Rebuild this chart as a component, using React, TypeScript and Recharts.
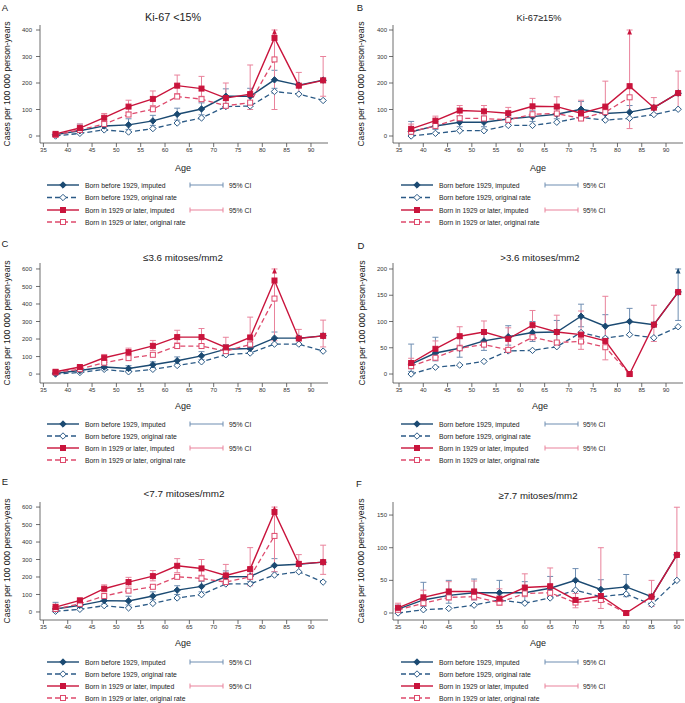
import React from 'react';
import { LineChart, Line, XAxis, YAxis, ErrorBar } from 'recharts';

const FONT = '"Liberation Sans", Arial, Helvetica, sans-serif';
const BLUE = '#1b4a72';
const BLUE_D = '#2b5a86';
const RED = '#c9143c';
const RED_D = '#de4a6c';
const BLUE_CI = '#6f8eb2';
const RED_CI = '#e9829b';
const AXIS = '#4a4a4a';
const TXT = '#222';
const _ = null;

// ---------- categories / ticks / labels ----------
const agesMid = [37.5, 42.5, 47.5, 52.5, 57.5, 62.5, 67.5, 72.5, 77.5, 82.5, 87.5, 92.5];
const agesF = [35, 40, 45, 50, 55, 60, 65, 70, 75, 80, 85, 90];
const xTicks = [35, 40, 45, 50, 55, 60, 65, 70, 75, 80, 85, 90];
const yTicks400 = [0, 100, 200, 300, 400];
const yTicks600 = [0, 100, 200, 300, 400, 500, 600];
const yTicks200 = [0, 50, 100, 150, 200];
const yTicks150 = [0, 50, 100, 150];

const legendLabels = [
  'Born before 1929, imputed',
  'Born before 1929, original rate',
  'Born in 1929 or later, imputed',
  'Born in 1929 or later, original rate',
];
const ciLabel = '95% CI';
const yLabel = 'Cases per 100 000 person-years';
const xLabel = 'Age';
const titles = ['Ki-67 <15%', 'Ki-67≥15%', '≤3.6 mitoses/mm2', '>3.6 mitoses/mm2', '<7.7 mitoses/mm2', '≥7.7 mitoses/mm2'];
const letters = ['A', 'B', 'C', 'D', 'E', 'F'];

// ---------- Panel A: Ki-67 <15% ----------
const aBImp = [5, 20, 38, 42, 57, 82, 102, 150, 150, 212, 192, 211];
const aBOrig = [0, 10, 23, 15, 28, 49, 68, 111, 113, 168, 158, 134];
const aRImp = [8, 30, 69, 111, 140, 190, 179, 143, 158, 370, 190, 210];
const aROrig = [4, 23, 45, 81, 101, 149, 139, 114, 126, 289, _, _];
const aBLo = [0, 10, 25, 25, 40, 60, 80, 120, 120, 180, _, _];
const aBHi = [10, 45, 55, 65, 78, 105, 125, 178, 180, 248, _, _];
const aRLo = [3, 20, 55, 90, 115, 160, 150, 110, 100, 100, 160, 150];
const aRHi = [15, 45, 85, 135, 170, 230, 225, 200, 268, 400, 240, 300];
const aBArrow = [_, _, _, _, _, _, _, _, _, _, _, _];
const aRArrow = [_, _, _, _, _, _, _, _, _, 400, _, _];

// ---------- Panel B: Ki-67 >=15% ----------
const bBImp = [16, 38, 52, 52, 64, 73, 82, 101, 85, 90, 107, 162];
const bBOrig = [0, 10, 20, 20, 40, 40, 52, 70, 60, 67, 81, 101];
const bRImp = [27, 58, 96, 93, 86, 112, 111, 86, 111, 188, 107, 162];
const bROrig = [16, 38, 67, 66, 61, 82, 85, 66, 90, 146, _, _];
const bBLo = [5, 25, 35, 35, 50, 55, 65, 80, 65, 65, _, _];
const bBHi = [55, 55, 75, 75, 80, 95, 105, 130, 110, 115, _, _];
const bRLo = [15, 40, 75, 72, 68, 85, 85, 65, 60, 28, 85, 100];
const bRHi = [45, 75, 115, 115, 108, 142, 148, 135, 207, 400, 145, 245];
const bBArrow = [_, _, _, _, _, _, _, _, _, _, _, _];
const bRArrow = [_, _, _, _, _, _, _, _, _, 400, _, _];

// ---------- Panel C: <=3.6 mitoses/mm2 ----------
const cBImp = [5, 20, 40, 32, 53, 76, 104, 142, 146, 205, 205, 218];
const cBOrig = [0, 9, 27, 13, 27, 49, 70, 110, 120, 171, 171, 131];
const cRImp = [13, 40, 93, 125, 161, 211, 211, 152, 209, 534, 203, 218];
const cROrig = [9, 28, 65, 91, 110, 160, 160, 131, 169, 431, _, _];
const cBLo = [0, 10, 28, 20, 38, 58, 82, 115, 118, 168, _, _];
const cBHi = [12, 30, 55, 48, 70, 98, 128, 168, 178, 240, _, _];
const cRLo = [5, 28, 78, 105, 135, 178, 170, 110, 140, 190, 170, 155];
const cRHi = [22, 50, 112, 148, 192, 250, 260, 210, 325, 600, 255, 308];
const cBArrow = [_, _, _, _, _, _, _, _, _, _, _, _];
const cRArrow = [_, _, _, _, _, _, _, _, _, 600, _, _];

// ---------- Panel D: >3.6 mitoses/mm2 ----------
const dBImp = [19, 40, 49, 63, 71, 79, 80, 110, 91, 100, 94, 156];
const dBOrig = [0, 13, 17, 24, 44, 45, 52, 79, 68, 75, 69, 90];
const dRImp = [21, 48, 72, 80, 67, 93, 80, 75, 63, 0, 94, 156];
const dROrig = [15, 31, 49, 56, 46, 70, 60, 62, 51, 0, _, _];
const dBLo = [5, 25, 32, 45, 55, 62, 63, 90, 70, 75, _, 102];
const dBHi = [57, 70, 68, 80, 92, 100, 102, 133, 113, 125, _, 200];
const dRLo = [10, 32, 55, 62, 50, 72, 60, 47, 27, _, 62, _];
const dRHi = [30, 63, 90, 101, 88, 121, 112, 120, 148, _, 131, _];
const dBArrow = [_, _, _, _, _, _, _, _, _, _, _, 200];
const dRArrow = [_, _, _, _, _, _, _, _, _, _, _, _];

// ---------- Panel E: <7.7 mitoses/mm2 ----------
const eBImp = [17, 38, 65, 63, 91, 125, 146, 201, 203, 266, 273, 285];
const eBOrig = [4, 15, 36, 23, 49, 80, 99, 160, 161, 211, 230, 171];
const eRImp = [28, 66, 133, 171, 205, 264, 249, 209, 245, 572, 275, 285];
const eROrig = [17, 46, 91, 122, 144, 201, 192, 171, 201, 435, _, _];
const eBLo = [0, 25, 45, 40, 70, 100, 115, 170, 175, 230, _, _];
const eBHi = [55, 50, 85, 90, 115, 150, 175, 235, 235, 305, _, _];
const eRLo = [15, 50, 115, 148, 178, 225, 210, 160, 150, 230, 230, 215];
const eRHi = [45, 80, 155, 198, 237, 305, 300, 272, 368, 600, 328, 382];
const eBArrow = [_, _, _, _, _, _, _, _, _, _, _, _];
const eRArrow = [_, _, _, _, _, _, _, _, _, 600, _, _];

// ---------- Panel F: >=7.7 mitoses/mm2 ----------
const fBImp = [6, 20, 27, 31, 31, 31, 38, 50, 36, 40, 25, 89];
const fBOrig = [0, 5, 7, 12, 20, 15, 23, 35, 25, 29, 13, 50];
const fRImp = [8, 24, 33, 33, 22, 39, 41, 20, 26, 0, 25, 89];
const fROrig = [5, 15, 24, 25, 16, 30, 31, 16, 20, 0, _, _];
const fBLo = [2, 10, 15, 20, 18, 18, 25, 35, 20, 25, _, _];
const fBHi = [12, 47, 50, 52, 50, 48, 56, 68, 51, 59, _, _];
const fRLo = [3, 12, 20, 20, 12, 25, 25, 8, 7, _, 10, 50];
const fRHi = [15, 35, 48, 49, 37, 60, 69, 30, 100, _, 50, 162];
const fBArrow = [_, _, _, _, _, _, _, _, _, _, _, _];
const fRArrow = [_, _, _, _, _, _, _, _, _, _, _, _];

type Num = number | null;

function err(v: Num, lo: Num, hi: Num) {
  if (v == null || lo == null || hi == null) return null;
  return [v - lo, hi - v];
}

function buildRows(ages: number[], bImp: Num[], bOrig: Num[], rImp: Num[], rOrig: Num[], bLo: Num[], bHi: Num[], rLo: Num[], rHi: Num[], bArrow: Num[], rArrow: Num[]) {
  return ages.map((age, i) => ({
    age,
    bImp: bImp[i],
    bOrig: bOrig[i],
    rImp: rImp[i],
    rOrig: rOrig[i],
    bErr: err(bImp[i], bLo[i], bHi[i]),
    rErr: err(rImp[i], rLo[i], rHi[i]),
    bArrow: bArrow[i],
    rArrow: rArrow[i],
  }));
}

const rowsA = buildRows(agesMid, aBImp, aBOrig, aRImp, aROrig, aBLo, aBHi, aRLo, aRHi, aBArrow, aRArrow);
const rowsB = buildRows(agesMid, bBImp, bBOrig, bRImp, bROrig, bBLo, bBHi, bRLo, bRHi, bBArrow, bRArrow);
const rowsC = buildRows(agesMid, cBImp, cBOrig, cRImp, cROrig, cBLo, cBHi, cRLo, cRHi, cBArrow, cRArrow);
const rowsD = buildRows(agesMid, dBImp, dBOrig, dRImp, dROrig, dBLo, dBHi, dRLo, dRHi, dBArrow, dRArrow);
const rowsE = buildRows(agesMid, eBImp, eBOrig, eRImp, eROrig, eBLo, eBHi, eRLo, eRHi, eBArrow, eRArrow);
const rowsF = buildRows(agesF, fBImp, fBOrig, fRImp, fROrig, fBLo, fBHi, fRLo, fRHi, fBArrow, fRArrow);

// ---------- layout (page pixel coordinates) ----------
const panels = [
  { rows: rowsA, box: { x: 0, y: 0, w: 340, h: 165 }, plot: { l: 40, t: 25, r: 328, b: 143 }, xDomain: [34.3, 93.5], yDomain: [-26.4, 418.9], yTicks: yTicks400, tm: 4 },
  { rows: rowsB, box: { x: 340, y: 0, w: 345, h: 165 }, plot: { l: 393, t: 25, r: 683, b: 143 }, xDomain: [33.76, 93.5], yDomain: [-26.4, 418.9], yTicks: yTicks400, tm: 2 },
  { rows: rowsC, box: { x: 0, y: 230, w: 340, h: 170 }, plot: { l: 40, t: 263, r: 328, b: 383 }, xDomain: [34.3, 93.5], yDomain: [-51, 634], yTicks: yTicks600, tm: 4 },
  { rows: rowsD, box: { x: 340, y: 230, w: 345, h: 170 }, plot: { l: 393, t: 263, r: 683, b: 383 }, xDomain: [33.76, 93.5], yDomain: [-17.1, 211.4], yTicks: yTicks200, tm: 2 },
  { rows: rowsE, box: { x: 0, y: 460, w: 340, h: 175 }, plot: { l: 40, t: 502, r: 328, b: 620 }, xDomain: [34.3, 93.5], yDomain: [-46, 629], yTicks: yTicks600, tm: 4 },
  { rows: rowsF, box: { x: 340, y: 460, w: 345, h: 175 }, plot: { l: 393, t: 502, r: 684, b: 620 }, xDomain: [34.0, 91.4], yDomain: [-10.7, 170], yTicks: yTicks150, tm: 2 },
];

const textPos = [
  { letter: [5, 7], title: [173, 17, 10.8], age: [183, 168], ylab: [7, 84] },
  { letter: [360, 7], title: [539, 18, 9.2], age: [538, 168], ylab: [361, 84] },
  { letter: [5, 243], title: [183, 257, 9.8], age: [183, 406], ylab: [7, 323] },
  { letter: [361, 245], title: [540, 257, 9.7], age: [540, 406], ylab: [362, 323] },
  { letter: [5, 481], title: [184, 493, 9.9], age: [183, 643], ylab: [7, 561] },
  { letter: [359, 483], title: [538, 495, 9.7], age: [538, 643], ylab: [361, 561] },
];

const legendRowsY = [
  [185, 197.5, 210, 222],
  [424, 436, 448, 460],
  [662, 674, 686, 698],
];
const legendX = [
  { l0: 47, l1: 79, m: 63, t: 85, c0: 190, c1: 223, ct: 229 },
  { l0: 401, l1: 433, m: 417, t: 439, c0: 545, c1: 578, ct: 583 },
];

// ---------- markers ----------
const bad = (v: any) => v == null || Number.isNaN(v);
const DS = 3.2;
const SS = 2.5;

const diamond = (fill: string, stroke: string) => (p: any) => {
  const { cx, cy, index } = p;
  if (bad(cx) || bad(cy)) return <g key={`d${index}`} />;
  const s = DS;
  return <path key={`d${index}`} d={`M${cx},${cy - s}L${cx + s},${cy}L${cx},${cy + s}L${cx - s},${cy}Z`} fill={fill} stroke={stroke} strokeWidth={1} />;
};
const square = (fill: string, stroke: string) => (p: any) => {
  const { cx, cy, index } = p;
  if (bad(cx) || bad(cy)) return <g key={`s${index}`} />;
  const s = SS;
  return <rect key={`s${index}`} x={cx - s} y={cy - s} width={2 * s} height={2 * s} fill={fill} stroke={stroke} strokeWidth={1} />;
};
const arrow = (color: string) => (p: any) => {
  const { cx, cy, index } = p;
  if (bad(cx) || bad(cy)) return <g key={`a${index}`} />;
  return <path key={`a${index}`} d={`M${cx},${cy - 1}L${cx + 2.4},${cy + 4.5}L${cx - 2.4},${cy + 4.5}Z`} fill={color} />;
};

function Panel({ spec }: { spec: any }) {
  const { box, plot, xDomain, yDomain, yTicks, rows, tm } = spec;
  const hX = 16;
  const wY = plot.l - box.x;
  const margin = { top: plot.t - box.y, right: box.x + box.w - plot.r, bottom: box.y + box.h - plot.b - hX, left: 0 };
  const tick = { fontSize: 6, fill: '#333', fontFamily: FONT };
  return (
    <div style={{ position: 'absolute', left: box.x, top: box.y }}>
      <LineChart width={box.w} height={box.h} data={rows} margin={margin}>
        <XAxis type="number" dataKey="age" domain={xDomain} ticks={xTicks} allowDataOverflow interval={0}
          height={hX} tickSize={4} tickMargin={1} stroke={AXIS} strokeWidth={0.8} tick={tick} />
        <YAxis type="number" domain={yDomain} ticks={yTicks} allowDataOverflow interval={0}
          width={wY} tickSize={4} tickMargin={tm} stroke={AXIS} strokeWidth={0.8} tick={tick} />
        <Line dataKey="bImp" stroke="none" dot={false} activeDot={false} isAnimationActive={false}>
          <ErrorBar dataKey="bErr" direction="y" width={3} stroke={BLUE_CI} strokeWidth={1} isAnimationActive={false} />
        </Line>
        <Line dataKey="rImp" stroke="none" dot={false} activeDot={false} isAnimationActive={false}>
          <ErrorBar dataKey="rErr" direction="y" width={3} stroke={RED_CI} strokeWidth={1} isAnimationActive={false} />
        </Line>
        <Line dataKey="bArrow" stroke="none" dot={arrow(BLUE)} activeDot={false} isAnimationActive={false} />
        <Line dataKey="rArrow" stroke="none" dot={arrow(RED)} activeDot={false} isAnimationActive={false} />
        <Line dataKey="bOrig" stroke={BLUE_D} strokeWidth={1.3} strokeDasharray="5 3" dot={diamond('#fff', BLUE_D)} activeDot={false} isAnimationActive={false} />
        <Line dataKey="bImp" stroke={BLUE} strokeWidth={1.4} dot={diamond(BLUE, BLUE)} activeDot={false} isAnimationActive={false} />
        <Line dataKey="rOrig" stroke={RED_D} strokeWidth={1.3} strokeDasharray="5 3" dot={square('#fff', RED_D)} activeDot={false} isAnimationActive={false} />
        <Line dataKey="rImp" stroke={RED} strokeWidth={1.4} dot={square(RED, RED)} activeDot={false} isAnimationActive={false} />
      </LineChart>
    </div>
  );
}

function LegendBlock({ lx, ys }: { lx: any; ys: number[] }) {
  const fs = 6.8;
  const cap = (x: number, y: number, c: string) => <line x1={x} y1={y - 2.5} x2={x} y2={y + 2.5} stroke={c} strokeWidth={1} />;
  const s = SS;
  const d = DS;
  return (
    <g fontFamily={FONT} fontSize={fs} fill={TXT}>
      <line x1={lx.l0} y1={ys[0]} x2={lx.l1} y2={ys[0]} stroke={BLUE} strokeWidth={1.4} />
      <path d={`M${lx.m},${ys[0] - d}L${lx.m + d},${ys[0]}L${lx.m},${ys[0] + d}L${lx.m - d},${ys[0]}Z`} fill={BLUE} stroke={BLUE} strokeWidth={1} />
      <text x={lx.t} y={ys[0]} dominantBaseline="central">{legendLabels[0]}</text>

      <line x1={lx.l0} y1={ys[1]} x2={lx.l1} y2={ys[1]} stroke={BLUE_D} strokeWidth={1.3} strokeDasharray="5 3" />
      <path d={`M${lx.m},${ys[1] - d}L${lx.m + d},${ys[1]}L${lx.m},${ys[1] + d}L${lx.m - d},${ys[1]}Z`} fill="#fff" stroke={BLUE_D} strokeWidth={1} />
      <text x={lx.t} y={ys[1]} dominantBaseline="central">{legendLabels[1]}</text>

      <line x1={lx.l0} y1={ys[2]} x2={lx.l1} y2={ys[2]} stroke={RED} strokeWidth={1.4} />
      <rect x={lx.m - s} y={ys[2] - s} width={2 * s} height={2 * s} fill={RED} stroke={RED} strokeWidth={1} />
      <text x={lx.t} y={ys[2]} dominantBaseline="central">{legendLabels[2]}</text>

      <line x1={lx.l0} y1={ys[3]} x2={lx.l1} y2={ys[3]} stroke={RED_D} strokeWidth={1.3} strokeDasharray="5 3" />
      <rect x={lx.m - s} y={ys[3] - s} width={2 * s} height={2 * s} fill="#fff" stroke={RED_D} strokeWidth={1} />
      <text x={lx.t} y={ys[3]} dominantBaseline="central">{legendLabels[3]}</text>

      <line x1={lx.c0} y1={ys[0]} x2={lx.c1} y2={ys[0]} stroke={BLUE_CI} strokeWidth={1.1} />
      {cap(lx.c0, ys[0], BLUE_CI)}
      {cap(lx.c1, ys[0], BLUE_CI)}
      <text x={lx.ct} y={ys[0]} dominantBaseline="central">{ciLabel}</text>

      <line x1={lx.c0} y1={ys[2]} x2={lx.c1} y2={ys[2]} stroke={RED_CI} strokeWidth={1.1} />
      {cap(lx.c0, ys[2], RED_CI)}
      {cap(lx.c1, ys[2], RED_CI)}
      <text x={lx.ct} y={ys[2]} dominantBaseline="central">{ciLabel}</text>
    </g>
  );
}

export default function App() {
  return (
    <div style={{ position: 'absolute', left: 0, top: 0, width: 685, height: 703, background: '#fff', overflow: 'hidden', fontFamily: FONT }}>
      {panels.map((p, i) => <Panel key={i} spec={p} />)}
      <svg width={685} height={703} style={{ position: 'absolute', left: 0, top: 0, pointerEvents: 'none' }}>
        {textPos.map((t, i) => (
          <g key={i} fontFamily={FONT} fill={TXT}>
            <text x={t.letter[0]} y={t.letter[1]} fontSize={9.5} textAnchor="middle" dominantBaseline="central">{letters[i]}</text>
            <text x={t.title[0]} y={t.title[1]} fontSize={t.title[2]} textAnchor="middle" dominantBaseline="central">{titles[i]}</text>
            <text x={t.age[0]} y={t.age[1]} fontSize={9} textAnchor="middle" dominantBaseline="central">{xLabel}</text>
            <text x={t.ylab[0]} y={t.ylab[1]} fontSize={8.6} textAnchor="middle" dominantBaseline="central"
              transform={`rotate(-90 ${t.ylab[0]} ${t.ylab[1]})`}>{yLabel}</text>
          </g>
        ))}
        {legendRowsY.map((ys, r) => (
          <g key={r}>
            <LegendBlock lx={legendX[0]} ys={ys} />
            <LegendBlock lx={legendX[1]} ys={ys} />
          </g>
        ))}
      </svg>
    </div>
  );
}
